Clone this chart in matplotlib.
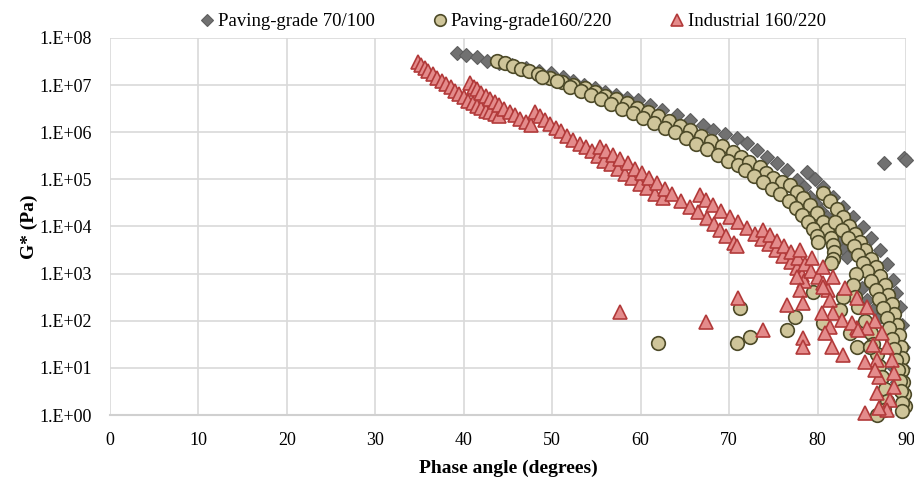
import matplotlib
matplotlib.use("Agg")
import matplotlib.pyplot as plt
from matplotlib.lines import Line2D

# ---------------- data (phase angle in degrees, log10 of G* in Pa) ----------------
series_names = ["Paving-grade 70/100", "Paving-grade160/220", "Industrial 160/220"]

paving70_phase = [
    39.2, 40.3, 41.5, 42.6, 44.0, 45.5, 47.0, 48.5, 49.9, 51.2, 52.4, 53.6, 54.8, 56.0,
    57.2, 58.4, 59.7, 61.1, 62.4, 64.1, 65.6, 67.0, 68.2, 69.5, 70.9, 72.0, 73.2, 74.3,
    75.4, 76.5, 77.7,
    78.5, 79.1, 79.8, 80.4, 81.1, 81.8, 82.5, 83.0, 83.3,
    78.8, 79.7, 80.6, 81.7, 82.9, 84.0, 85.1, 86.1, 87.1, 87.8, 88.5, 88.9, 89.3, 89.5,
    89.7, 89.7, 89.7,
    85.0, 85.6, 86.4, 87.1, 87.8, 88.3, 88.7, 89.0,
    87.5, 89.8, 90.0,
]
paving70_logG = [
    7.68, 7.64, 7.60, 7.52, 7.47, 7.42, 7.36, 7.30, 7.26, 7.17, 7.08, 7.00, 6.93, 6.86,
    6.79, 6.73, 6.68, 6.58, 6.47, 6.37, 6.26, 6.15, 6.05, 5.96, 5.88, 5.77, 5.62, 5.47,
    5.34, 5.20, 4.99,
    4.83, 4.63, 4.47, 4.33, 4.20, 3.95, 3.71, 3.52, 3.35,
    5.16, 5.00, 4.84, 4.63, 4.41, 4.20, 3.99, 3.75, 3.50, 3.20, 2.86, 2.58, 2.30, 1.90,
    1.44, 1.00, 0.50,
    2.70, 2.44, 2.25, 2.08, 1.75, 1.40, 1.00, 0.70,
    5.35, 5.45, 5.42,
]

paving160_phase = [
    43.7, 44.7, 45.6, 46.5, 47.4, 48.4, 49.8, 51.1, 52.4, 53.7, 54.8,
    48.9, 50.5, 52.0, 53.3, 54.4,
    56.0, 57.2, 58.4, 59.6, 60.8, 62.0, 63.2, 64.4, 65.6, 66.8, 68.0, 69.2, 70.4, 71.4,
    55.5, 56.7, 57.9, 59.1, 60.3, 61.5, 62.7, 63.9, 65.1, 66.3, 67.5, 68.7, 69.9, 71.0,
    72.3, 73.5, 74.2, 75.0, 76.0, 76.9, 77.7, 78.4, 79.2, 79.9, 80.6, 81.1, 81.5, 81.8,
    81.9, 81.8, 81.5,
    71.8, 72.8, 73.8, 74.8, 75.8, 76.8, 77.6, 78.3, 78.9, 79.5, 79.9, 80.1,
    80.6, 81.4, 82.2, 82.9, 83.6, 84.2, 84.8, 85.4, 86.0, 86.6, 87.1, 87.6, 88.0, 88.4,
    88.7, 89.0, 89.2, 89.4, 89.5, 89.6, 89.7, 89.8, 89.9,
    82.0, 82.8, 83.5, 84.1, 84.6, 85.1, 85.6, 86.1, 86.6, 87.0, 87.4, 87.8, 88.1, 88.4,
    88.7, 88.9, 89.1, 89.3, 89.4, 89.5, 89.5,
    84.4, 84.0, 84.2, 84.6, 85.4, 86.0, 86.3, 86.7, 87.0, 87.3, 87.6, 87.9, 87.5, 86.7,
    82.9, 82.5, 80.6, 83.7, 84.5, 85.9,
    62.0, 71.2, 70.9, 72.4, 76.5, 77.5, 79.5,
]
paving160_logG = [
    7.51, 7.47, 7.41, 7.35, 7.29, 7.24, 7.16, 7.07, 7.00, 6.93, 6.85,
    7.18, 7.08, 6.97, 6.88, 6.80,
    6.77, 6.70, 6.62, 6.52, 6.43, 6.34, 6.24, 6.14, 6.04, 5.93, 5.82, 5.71, 5.58, 5.48,
    6.70, 6.60, 6.50, 6.40, 6.30, 6.20, 6.10, 6.00, 5.88, 5.76, 5.64, 5.52, 5.40, 5.30,
    5.37, 5.26, 5.14, 5.02, 4.94, 4.88, 4.74, 4.60, 4.45, 4.28, 4.10, 3.93, 3.76, 3.60,
    3.45, 3.32, 3.22,
    5.20, 5.08, 4.95, 4.80, 4.68, 4.55, 4.40, 4.25, 4.10, 3.95, 3.80, 3.68,
    4.71, 4.55, 4.38, 4.20, 4.02, 3.85, 3.68, 3.50, 3.32, 3.14, 2.95, 2.75, 2.55, 2.35,
    2.15, 1.90, 1.70, 1.45, 1.20, 0.95, 0.70, 0.45, 0.20,
    4.10, 3.92, 3.75, 3.58, 3.40, 3.22, 3.05, 2.85, 2.66, 2.46, 2.26, 2.05, 1.84, 1.62,
    1.40, 1.17, 0.95, 0.72, 0.50, 0.25, 0.08,
    3.00, 2.75, 2.50, 2.30, 2.00, 1.75, 1.50, 1.30, 1.05, 0.80, 0.55, 0.30, 0.10, 0.00,
    2.50, 2.23, 1.95, 1.74, 1.44, 1.44,
    1.53, 2.27, 1.53, 1.66, 1.80, 2.08, 2.61,
]

industrial_phase = [
    34.8, 35.2, 35.6, 36.0, 36.5, 37.0, 37.5, 38.0, 38.5, 39.0, 39.5, 40.0, 40.5, 41.0,
    41.5, 42.0, 42.5, 43.0, 43.5, 44.0,
    40.7, 41.1, 41.5, 42.0, 42.5, 43.0, 43.5, 44.0, 44.6, 45.2, 45.8, 46.4, 47.0, 47.6,
    48.1, 48.6, 49.2, 49.8, 50.4, 51.0, 51.7, 52.4, 53.1, 53.8, 54.5, 55.2, 55.9, 56.6,
    57.4, 58.2, 59.0, 59.9, 60.7, 61.6, 62.5,
    55.4, 56.1, 56.9, 57.7, 58.6, 59.4, 60.2, 61.0, 61.8, 62.7, 63.6, 64.6, 65.6, 66.5,
    67.5, 68.3, 69.0, 69.7, 70.5, 70.9,
    66.7, 67.4, 68.2, 69.1, 70.1, 71.0, 72.0, 72.9, 73.7, 74.5, 75.3, 76.1, 77.0, 77.7,
    78.2, 78.5,
    73.8, 74.6, 75.4, 76.2, 77.0, 77.8, 78.6, 79.3, 80.0, 80.6, 81.2,
    78.0, 79.4, 80.6, 81.8, 83.1, 84.5, 85.6, 86.5, 87.3, 87.8, 88.4, 88.6, 88.6, 88.2,
    87.8,
    85.6, 86.3, 86.7, 86.9, 86.7, 86.9, 85.4,
    77.7, 78.0, 78.4, 80.6, 81.4, 81.8, 81.4,
    57.7, 67.4, 71.0, 73.8, 78.4, 78.4, 76.5, 80.5, 80.8, 81.6, 82.9, 82.8, 84.5, 85.4,
    86.5, 83.9, 84.6,
]
industrial_logG = [
    7.49, 7.42, 7.36, 7.30, 7.23, 7.16, 7.09, 7.02, 6.95, 6.88, 6.81, 6.74, 6.67, 6.61,
    6.56, 6.51, 6.46, 6.42, 6.38, 6.34,
    7.04, 6.97, 6.91, 6.84, 6.77, 6.70, 6.64, 6.57, 6.50, 6.43, 6.36, 6.29, 6.22, 6.16,
    6.42, 6.34, 6.26, 6.18, 6.10, 6.02, 5.93, 5.84, 5.76, 5.68, 5.60, 5.50, 5.40, 5.32,
    5.22, 5.12, 5.02, 4.91, 4.81, 4.70, 4.60,
    5.68, 5.60, 5.52, 5.43, 5.34, 5.23, 5.13, 5.03, 4.93, 4.80, 4.68, 4.54, 4.41, 4.30,
    4.18, 4.05, 3.93, 3.80, 3.66, 3.58,
    4.67, 4.57, 4.46, 4.33, 4.20, 4.09, 3.97, 3.85, 3.74, 3.62, 3.50, 3.38, 3.24, 3.12,
    2.98, 2.85,
    3.93, 3.82, 3.70, 3.58, 3.46, 3.33, 3.20, 3.06, 2.92, 2.80, 2.66,
    3.50, 3.33, 3.14, 2.93, 2.69, 2.48, 2.29, 2.00, 1.74, 1.44, 1.17, 0.89, 0.60, 0.32,
    0.11,
    1.85, 1.49, 1.17, 0.81, 0.47, 0.15, 0.05,
    2.93, 2.65, 2.38, 2.72, 2.44, 2.16, 1.87,
    2.19, 1.97, 2.48, 1.80, 1.63, 1.44, 2.33, 2.16, 1.74, 1.44, 1.27, 2.02, 1.85, 1.12,
    0.95, 1.95, 1.80,
]

x_ticks = [0, 10, 20, 30, 40, 50, 60, 70, 80, 90]
y_exponents = [0, 1, 2, 3, 4, 5, 6, 7, 8]
y_ticklabels = ["1.E+00", "1.E+01", "1.E+02", "1.E+03", "1.E+04",
                "1.E+05", "1.E+06", "1.E+07", "1.E+08"]

# ---------------- figure ----------------
plt.rcParams["font.family"] = ["Liberation Serif", "DejaVu Serif"]

fig = plt.figure(figsize=(9.14, 4.79), dpi=100)
ax = fig.add_axes([0.1204, 0.1336, 0.8708, 0.7871])

styles = [
    dict(marker="D", ms=7.3, mfc="#717171", mec="#5e5e5e", mew=0.8),
    dict(marker="o", ms=9.8, mfc="#cfc59a", mec="#4d4a28", mew=1.2),
    dict(marker="^", ms=9.8, mfc="#e48b8b", mec="#b23a3a", mew=1.2),
]
data = [
    (paving70_phase, paving70_logG),
    (paving160_phase, paving160_logG),
    (industrial_phase, industrial_logG),
]

for (ph, lg), st, z in zip(data, styles, [3, 4, 5]):
    g = [10.0 ** v for v in lg]
    ax.plot(ph, g, linestyle="none", zorder=z, clip_on=False, **st)

ax.set_yscale("log")
ax.set_xlim(0, 90)
ax.set_ylim(1, 1e8)
ax.set_xticks(x_ticks)
ax.set_xticklabels([str(v) for v in x_ticks], fontsize=13)
ax.set_yticks([10.0 ** e for e in y_exponents])
ax.set_yticklabels(y_ticklabels, fontsize=13)
ax.minorticks_off()
ax.tick_params(axis="x", length=0, pad=12, colors="black")
ax.tick_params(axis="y", length=0, pad=13, colors="black")
ax.grid(True, color="#d9d9d9", linewidth=1.2, zorder=0)
ax.set_axisbelow(True)
for side in ["left", "right", "top"]:
    ax.spines[side].set_visible(False)
ax.spines["bottom"].set_color("#d0d0d0")
ax.spines["bottom"].set_linewidth(1.5)

ax.set_xlabel("Phase angle (degrees)", fontsize=14, fontweight="bold", labelpad=8)
ax.set_ylabel("G* (Pa)", fontsize=14, fontweight="bold", labelpad=1)

handles = [Line2D([], [], linestyle="none", **{**st, "ms": st["ms"] * 0.85})
           for st in styles]
fig.legend(handles, series_names, loc="upper center", bbox_to_anchor=(0.560, 1.008),
           ncol=3, frameon=False, fontsize=13.5, handletextpad=0.05,
           columnspacing=3.0, handlelength=1.0)

fig.savefig("out.png", dpi=100)
